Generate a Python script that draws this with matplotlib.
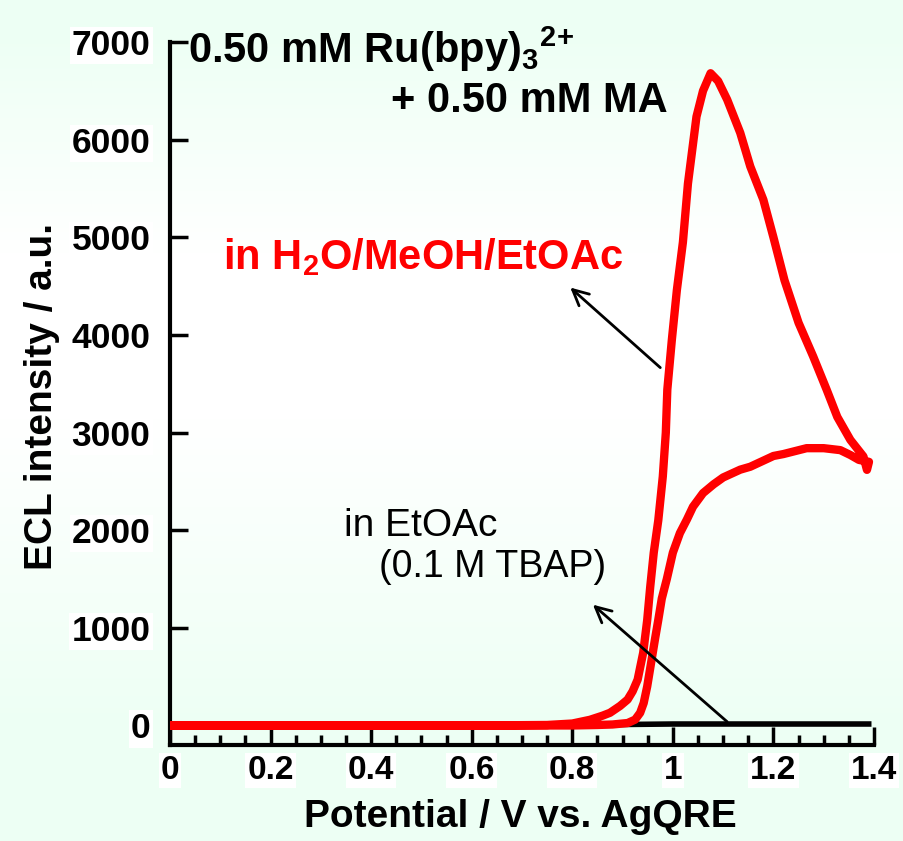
import numpy as np
import matplotlib
matplotlib.use("Agg")
import matplotlib.pyplot as plt
from matplotlib.ticker import MultipleLocator, FuncFormatter

plt.rcParams['font.family'] = ['Liberation Sans', 'DejaVu Sans']
plt.rcParams['mathtext.fontset'] = 'custom'
plt.rcParams['mathtext.rm'] = 'Liberation Sans:bold'
plt.rcParams['mathtext.it'] = 'Liberation Sans:bold'
plt.rcParams['mathtext.bf'] = 'Liberation Sans:bold'

# ---- data ----
# red curve, H2O/MeOH/EtOAc: anodic (forward) scan
pot_fwd = [0.00, 0.20, 0.40, 0.60, 0.75, 0.80, 0.835, 0.86, 0.875, 0.895, 0.91, 0.92,
           0.93, 0.941, 0.949, 0.955, 0.962, 0.971, 0.980, 0.986, 0.989, 0.998, 1.008,
           1.020, 1.030, 1.047, 1.060, 1.075, 1.090, 1.108, 1.134, 1.154, 1.180, 1.200,
           1.222, 1.250, 1.279, 1.306, 1.327, 1.353, 1.379, 1.386]
ecl_fwd = [0, 0, 0, 0, 5, 20, 58, 100, 130, 200, 265, 350,
           470, 745, 1080, 1420, 1770, 2100, 2550, 3000, 3440, 3950, 4460,
           4950, 5550, 6236, 6500, 6680, 6600, 6410, 6070, 5725, 5384, 5000,
           4560, 4124, 3780, 3437, 3160, 2925, 2755, 2618]
# red curve: cathodic (reverse) scan
pot_rev = [1.386, 1.390, 1.370, 1.353, 1.333, 1.300, 1.266, 1.220, 1.200, 1.154, 1.134,
           1.100, 1.081, 1.060, 1.040, 1.028, 1.014, 1.000, 0.988, 0.978, 0.971, 0.965,
           0.957, 0.949, 0.942, 0.935, 0.925, 0.910, 0.880, 0.850, 0.800, 0.600, 0.400,
           0.200, 0.000]
ecl_rev = [2618, 2700, 2720, 2770, 2820, 2840, 2840, 2780, 2760, 2650, 2620,
           2540, 2470, 2380, 2240, 2110, 1970, 1770, 1500, 1300, 1080, 900,
           650, 400, 230, 130, 60, 25, 10, 5, 0, 0, 0,
           0, 0]
# black curve, EtOAc (0.1 M TBAP)
pot_etoac = [0.00, 0.40, 0.80, 0.90, 1.00, 1.10, 1.20, 1.30, 1.395]
ecl_etoac = [0, 0, 0, 10, 15, 15, 15, 15, 15]

xticks = [0, 0.2, 0.4, 0.6, 0.8, 1.0, 1.2, 1.4]
yticks = [0, 1000, 2000, 3000, 4000, 5000, 6000, 7000]

W, H = 904, 841
fig = plt.figure(figsize=(W / 100, H / 100), dpi=100)

# background gradient (mint -> white -> mint)
N = 400
t = np.linspace(0, 1, N)
w = np.clip((0.30 - t) / 0.25, 0, 1) + np.clip((t - 0.50) / 0.35, 0, 1)
mint = np.array([0.933, 1.0, 0.96])
white = np.array([1.0, 1.0, 1.0])
grad = (w[:, None] * mint + (1 - w[:, None]) * white)[:, None, :]
bg = fig.add_axes([0, 0, 1, 1], zorder=-10)
bg.imshow(grad, aspect='auto', extent=[0, 1, 0, 1])
bg.axis('off')

def fx(px):
    return px / W

def fy(py):
    return 1 - py / H

ax = fig.add_axes([fx(170), fy(745), (874 - 170) / W, (745 - 42) / H])
ax.set_facecolor('none')

ax.plot(pot_etoac, ecl_etoac, color='black', lw=4, solid_capstyle='butt', zorder=2)
ax.plot(pot_fwd + pot_rev, ecl_fwd + ecl_rev, color='#ff0000', lw=6,
        solid_joinstyle='round', solid_capstyle='butt', zorder=3)

ax.set_xlim(0, 1.4)
ax.set_ylim(-200, 7000)
ax.set_xticks(xticks)
ax.set_yticks(yticks)
ax.xaxis.set_minor_locator(MultipleLocator(0.05))
ax.xaxis.set_major_formatter(FuncFormatter(lambda v, p: '%g' % round(v, 2)))
ax.yaxis.set_major_formatter(FuncFormatter(lambda v, p: '%d' % v))

for s in ['top', 'right']:
    ax.spines[s].set_visible(False)
for s in ['left', 'bottom']:
    ax.spines[s].set_linewidth(3)

ax.tick_params(axis='x', which='major', direction='in', length=13, width=2.5,
               labelsize=24, pad=7)
ax.tick_params(axis='x', which='minor', direction='in', length=7, width=2.5)
ax.tick_params(axis='y', which='major', direction='in', length=13, width=2.5,
               labelsize=25.5, pad=14)
for lbl in ax.get_xticklabels() + ax.get_yticklabels():
    lbl.set_fontweight('bold')
    lbl.set_bbox(dict(facecolor='white', edgecolor='none', pad=1.5))

# axis labels
fig.text(fx(520), fy(827), 'Potential / V vs. AgQRE', ha='center', va='baseline',
         fontsize=28, fontweight='bold')
fig.text(fx(42), fy(397), 'ECL intensity / a.u.', ha='center', va='center',
         rotation=90, fontsize=28, fontweight='bold')

# annotations
fig.text(fx(188), fy(63), r'0.50 mM Ru(bpy)$_3$$^{2\!+}$', ha='left', va='baseline',
         fontsize=30, fontweight='bold')
fig.text(fx(668), fy(112), '+ 0.50 mM MA', ha='right', va='baseline',
         fontsize=30, fontweight='bold')
fig.text(fx(223), fy(269), r'in H$_2$O/MeOH/EtOAc', ha='left', va='baseline',
         fontsize=30, fontweight='bold', color='#ff0000')
fig.text(fx(344), fy(536), 'in EtOAc', ha='left', va='baseline', fontsize=28)
fig.text(fx(379), fy(577), '(0.1 M TBAP)', ha='left', va='baseline', fontsize=27)

ax.annotate('', xy=(0.796, 4485), xytext=(0.975, 3665),
            arrowprops=dict(arrowstyle='->', lw=2, color='black', mutation_scale=28,
                            shrinkA=0, shrinkB=0))
ax.annotate('', xy=(0.841, 1237), xytext=(1.108, 38),
            arrowprops=dict(arrowstyle='->', lw=2, color='black', mutation_scale=28,
                            shrinkA=0, shrinkB=0), zorder=4)

fig.savefig('out.png', dpi=100)
